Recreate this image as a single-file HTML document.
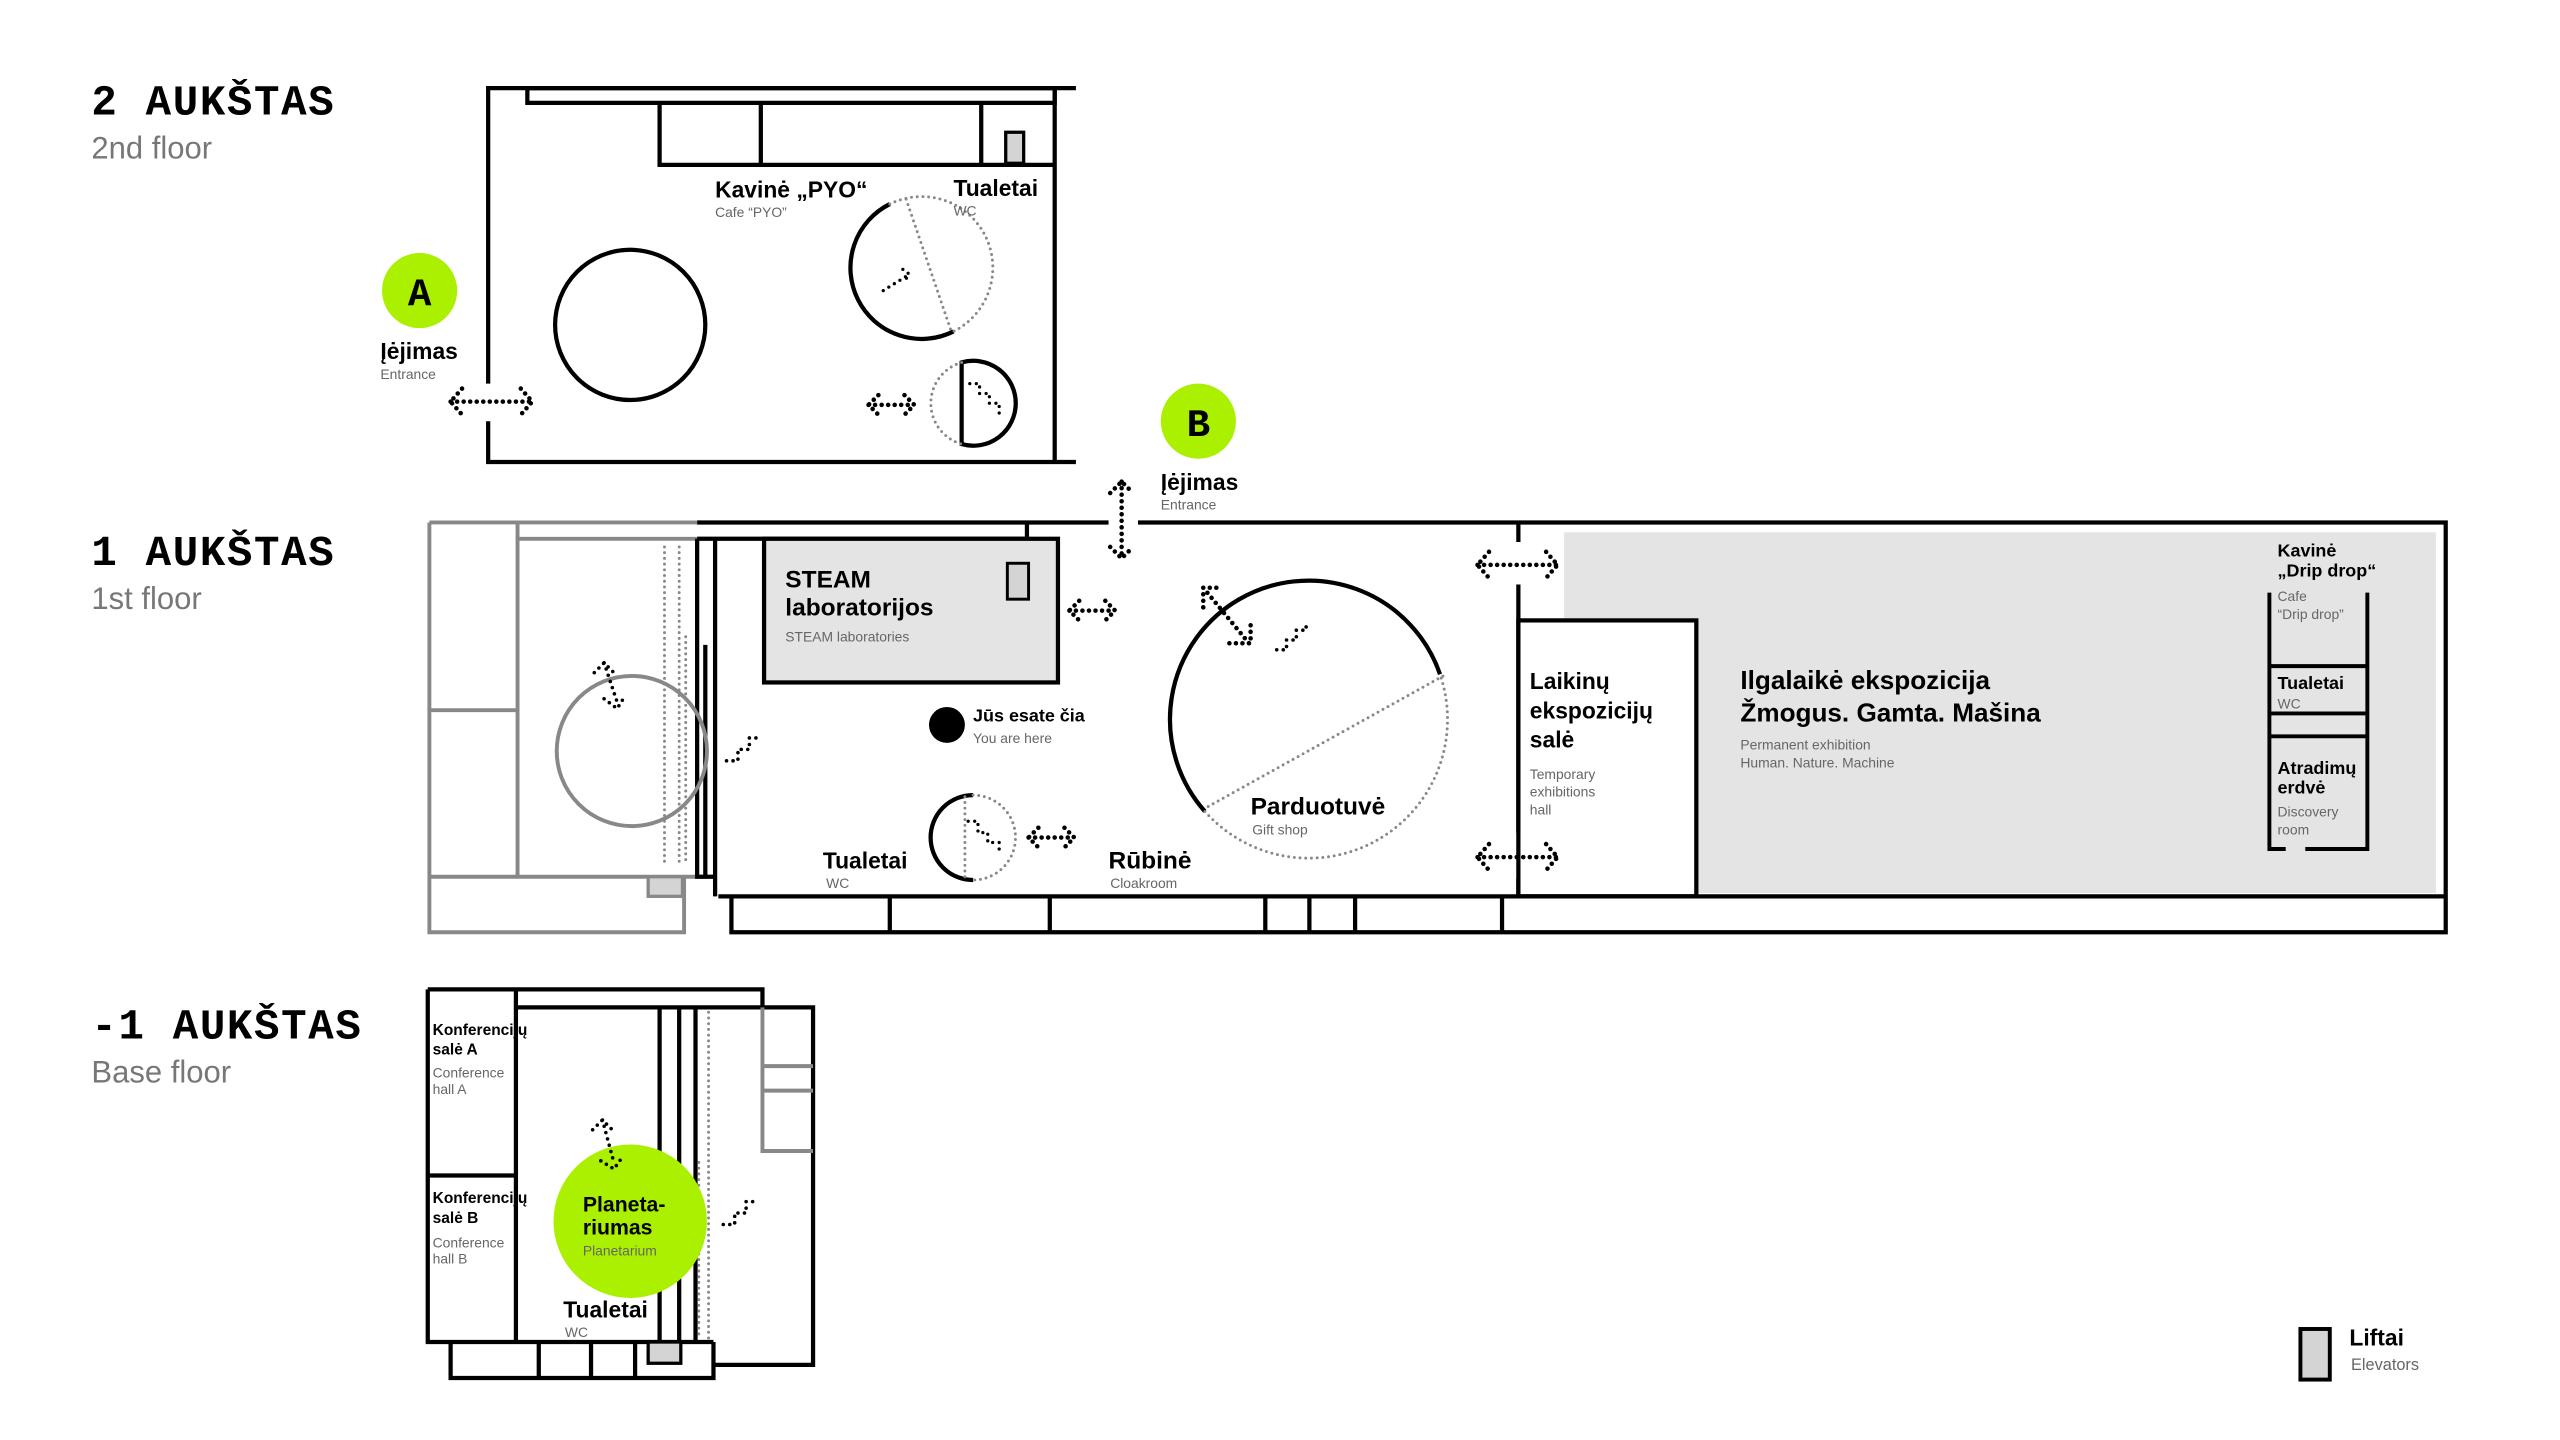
<!DOCTYPE html>
<html><head><meta charset="utf-8"><style>
html,body{margin:0;padding:0;background:#fff;}
svg{display:block;}
text{font-family:"Liberation Sans",sans-serif;}
.t{font-weight:bold;font-size:14px;fill:#000;}
.s{font-size:8.5px;fill:#666;}
.ttl{font-family:"Liberation Mono",monospace;font-weight:bold;font-size:26px;fill:#000;letter-spacing:1px;}
.fl{font-size:19px;fill:#777;}
.k{fill:none;stroke:#000;stroke-width:2.6;}
.g{fill:none;stroke:#888;stroke-width:2.4;}
.d{fill:none;stroke:#000;stroke-width:2.8;stroke-dasharray:0 4;stroke-linecap:round;}
.dg{fill:none;stroke:#888;stroke-width:1.8;stroke-dasharray:0 3.5;stroke-linecap:round;}
</style></head><body>
<svg width="2560" height="1440" viewBox="0 0 1568 882" xmlns="http://www.w3.org/2000/svg">
<rect width="1568" height="882" fill="#fff"/>
<!-- titles -->
<text class="ttl" x="56" y="70">2 AUKŠTAS</text>
<text class="fl" x="56" y="97">2nd floor</text>
<text class="ttl" x="56" y="346">1 AUKŠTAS</text>
<text class="fl" x="56" y="373">1st floor</text>
<text class="ttl" x="56" y="636">-1 AUKŠTAS</text>
<text class="fl" x="56" y="663">Base floor</text>

<!-- 2nd floor -->
<path class="k" d="M299 235 V54 H659 M299 258 V283 H659 M646 54 V283"/>
<rect class="k" x="323" y="54" width="323" height="9"/>
<path class="k" d="M404 63 V101 H646 M466 63 V101 M601 63 V101"/>
<rect x="616" y="81" width="11" height="19" fill="#d4d4d4" stroke="#000" stroke-width="2"/>
<circle class="k" cx="386" cy="199" r="46"/>
<path class="k" d="M545 125 A43 43 0 0 0 584 203"/>
<path class="dg" d="M545 125 A43 43 0 1 1 584 203 M555 122 L583 204"/>
<path class="d" d="M541 178 L557 168 M553 165 L557 168 L554 172" style="stroke-width:2"/>
<path class="k" d="M589 222 A26 26 0 1 1 589 272 Z"/>
<path class="dg" d="M589 222 A26 26 0 0 0 589 272"/>
<path class="d" d="M594 235 L600 235 L600 241 L606 241 L606 247 L612 247 L612 254" style="stroke-width:2"/>
<path class="d" d="M532 248 H560 M538 242 L532 248 L538 254 M554 242 L560 248 L554 254"/>
<path class="d" d="M276 246 H326 M283 238 L276 246 L283 254 M319 238 L326 246 L319 254"/>
<text class="t" x="438" y="121">Kavinė „PYO“</text>
<text class="s" x="438" y="133">Cafe “PYO”</text>
<text class="t" x="584" y="120">Tualetai</text>
<text class="s" x="584" y="132">WC</text>
<circle cx="257" cy="178" r="23" fill="#aaf000"/>
<text x="257" y="187" text-anchor="middle" style="font-family:'Liberation Mono',monospace;font-weight:bold;font-size:24px">A</text>
<text class="t" x="233" y="220">Įėjimas</text>
<text class="s" x="233" y="232">Entrance</text>

<!-- entrance B -->
<circle cx="734" cy="258" r="23" fill="#aaf000"/>
<text x="734" y="267" text-anchor="middle" style="font-family:'Liberation Mono',monospace;font-weight:bold;font-size:24px">B</text>
<text class="t" x="711" y="300">Įėjimas</text>
<text class="s" x="711" y="312">Entrance</text>
<path class="d" d="M687 295 V342 M680 302 L687 295 L694 302 M680 335 L687 342 L694 335"/>

<!-- 1st floor -->
<rect x="958" y="326" width="534" height="221" fill="#e4e4e4"/>
<rect x="930" y="380" width="109" height="169" fill="#fff" stroke="#000" stroke-width="2.6"/>
<path class="g" d="M263 320 H427 M263 320 V571 H419 V537 M317 320 V537 M263 435 H317 M263 537 H427 M317 330 H427"/>
<rect x="397" y="537" width="21" height="12" fill="#d4d4d4" stroke="#888" stroke-width="2"/>
<path class="k" d="M427 320 H679 M697 320 H1498 V571 H448 V549 M440 549 H1498 M427 330 H629 M629 320 V330 M427 330 V537 H438 M438 330 V549 M432 395 V537"/>
<path class="k" d="M545 549 V571 M643 549 V571 M775 549 V571 M802 549 V571 M830 549 V571 M920 549 V571"/>
<path class="k" d="M930 320 V332 M930 358 V510 M930 538 V549"/>
<path class="dg" d="M407 335 V530 M416 335 V530 M420 390 V530"/>
<circle cx="387" cy="460" r="46" fill="none" stroke="#888" stroke-width="2.4"/>
<path class="d" d="M370 406 L378 430 M364 412 L370 406 L376 412 M370 428 L378 434 L383 426" style="stroke-width:2.2"/>
<path class="d" d="M445 466 L452 466 L452 459 L459 459 L459 452 L466 452" style="stroke-width:2.2"/>
<rect x="468" y="330" width="180" height="88" fill="#e4e4e4" stroke="#000" stroke-width="2.6"/>
<rect x="617" y="345" width="13" height="22" fill="#d4d4d4" stroke="#000" stroke-width="1.8"/>
<text class="t" x="481" y="360" style="font-size:15px">STEAM</text>
<text class="t" x="481" y="377" style="font-size:15px">laboratorijos</text>
<text class="s" x="481" y="393">STEAM laboratories</text>
<path class="d" d="M655 374 H683 M661 368 L655 374 L661 380 M677 368 L683 374 L677 380"/>
<circle cx="580" cy="444" r="11" fill="#000"/>
<text class="t" x="596" y="442" style="font-size:11px">Jūs esate čia</text>
<text class="s" x="596" y="455">You are here</text>
<path class="k" d="M596 487 A26 26 0 0 0 596 539"/>
<path class="dg" d="M596 487 A26 26 0 0 1 596 539 M591 488 V538"/>
<path class="d" d="M593 503 L599 503 L599 510 L605 510 L605 516 L612 516 L612 522" style="stroke-width:2"/>
<path class="d" d="M630 513 H658 M636 507 L630 513 L636 519 M652 507 L658 513 L652 519"/>
<text class="t" x="504" y="532">Tualetai</text>
<text class="s" x="506" y="544">WC</text>
<text class="t" x="679" y="532" style="font-size:15px">Rūbinė</text>
<text class="s" x="680" y="544">Cloakroom</text>
<path class="k" d="M738 497 A85 85 0 1 1 882 413"/>
<path class="dg" d="M738 497 A85 85 0 0 0 882 413 M740 494 L884 414"/>
<path class="d" d="M737 360 L765 394 M737 372 V360 H749 M753 394 H766 V381"/>
<path class="d" d="M782 398 L788 398 L788 392 L794 392 L794 386 L800 386 L800 380" style="stroke-width:2.2"/>
<text class="t" x="766" y="499" style="font-size:15px">Parduotuvė</text>
<text class="s" x="767" y="511">Gift shop</text>
<path class="d" d="M905 346 H954 M912 338 L905 346 L912 354 M947 338 L954 346 L947 354"/>
<path class="d" d="M905 525 H954 M912 517 L905 525 L912 533 M947 517 L954 525 L947 533"/>
<text class="t" x="937" y="422">Laikinų</text>
<text class="t" x="937" y="440">ekspozicijų</text>
<text class="t" x="937" y="458">salė</text>
<text class="s" x="937" y="477">Temporary</text>
<text class="s" x="937" y="488">exhibitions</text>
<text class="s" x="937" y="499">hall</text>
<text class="t" x="1066" y="422" style="font-size:16px">Ilgalaikė ekspozicija</text>
<text class="t" x="1066" y="442" style="font-size:16px">Žmogus. Gamta. Mašina</text>
<text class="s" x="1066" y="459">Permanent exhibition</text>
<text class="s" x="1066" y="470">Human. Nature. Machine</text>
<path class="k" d="M1390 363 V520 H1400 M1412 520 H1450 V363 M1390 408 H1450 M1390 437 H1450 M1390 451 H1450" style="stroke-width:2.4"/>
<text class="t" x="1395" y="341" style="font-size:11px">Kavinė</text>
<text class="t" x="1395" y="353" style="font-size:11px">„Drip drop“</text>
<text class="s" x="1395" y="368">Cafe</text>
<text class="s" x="1395" y="379">“Drip drop”</text>
<text class="t" x="1395" y="422" style="font-size:11px">Tualetai</text>
<text class="s" x="1395" y="434">WC</text>
<text class="t" x="1395" y="474" style="font-size:11px">Atradimų</text>
<text class="t" x="1395" y="486" style="font-size:11px">erdvė</text>
<text class="s" x="1395" y="500">Discovery</text>
<text class="s" x="1395" y="511">room</text>

<!-- basement -->
<path class="k" d="M262 606 H467 V617 M262 606 V822 H437 M316 606 V822 M262 720 H316 M316 617 H498 V836 H437 M404 617 V822 M416 617 V822 M426 617 V822"/>
<path class="k" d="M276 822 V844 H437 V822 M330 822 V844 M362 822 V844 M389 822 V844"/>
<rect x="397" y="822" width="20" height="13" fill="#d4d4d4" stroke="#000" stroke-width="2"/>
<path class="g" d="M467 617 V705 H498 M467 653 H498 M467 668 H498"/>
<path class="dg" d="M434 620 V820 M428 712 V820"/>
<circle cx="386" cy="748" r="47" fill="#aaf000"/>
<path class="d" d="M369 686 L376 712 M363 692 L369 686 L375 692 M368 711 L376 716 L381 709" style="stroke-width:2.2"/>
<path class="d" d="M443 750 L450 750 L450 743 L457 743 L457 736 L465 736" style="stroke-width:2.2"/>
<text class="t" x="357" y="742" style="font-size:13px">Planeta-</text>
<text class="t" x="357" y="756" style="font-size:13px">riumas</text>
<text class="s" x="357" y="769">Planetarium</text>
<text class="t" x="265" y="634" style="font-size:9.5px">Konferencijų</text>
<text class="t" x="265" y="646" style="font-size:9.5px">salė A</text>
<text class="s" x="265" y="660">Conference</text>
<text class="s" x="265" y="670">hall A</text>
<text class="t" x="265" y="737" style="font-size:9.5px">Konferencijų</text>
<text class="t" x="265" y="749" style="font-size:9.5px">salė B</text>
<text class="s" x="265" y="764">Conference</text>
<text class="s" x="265" y="774">hall B</text>
<text class="t" x="345" y="807">Tualetai</text>
<text class="s" x="346" y="819">WC</text>

<!-- legend -->
<rect x="1409" y="814" width="18" height="31" fill="#d4d4d4" stroke="#000" stroke-width="2.4"/>
<text class="t" x="1439" y="824" style="font-size:14px">Liftai</text>
<text class="s" x="1440" y="839" style="font-size:10px">Elevators</text>
</svg>
</body></html>
